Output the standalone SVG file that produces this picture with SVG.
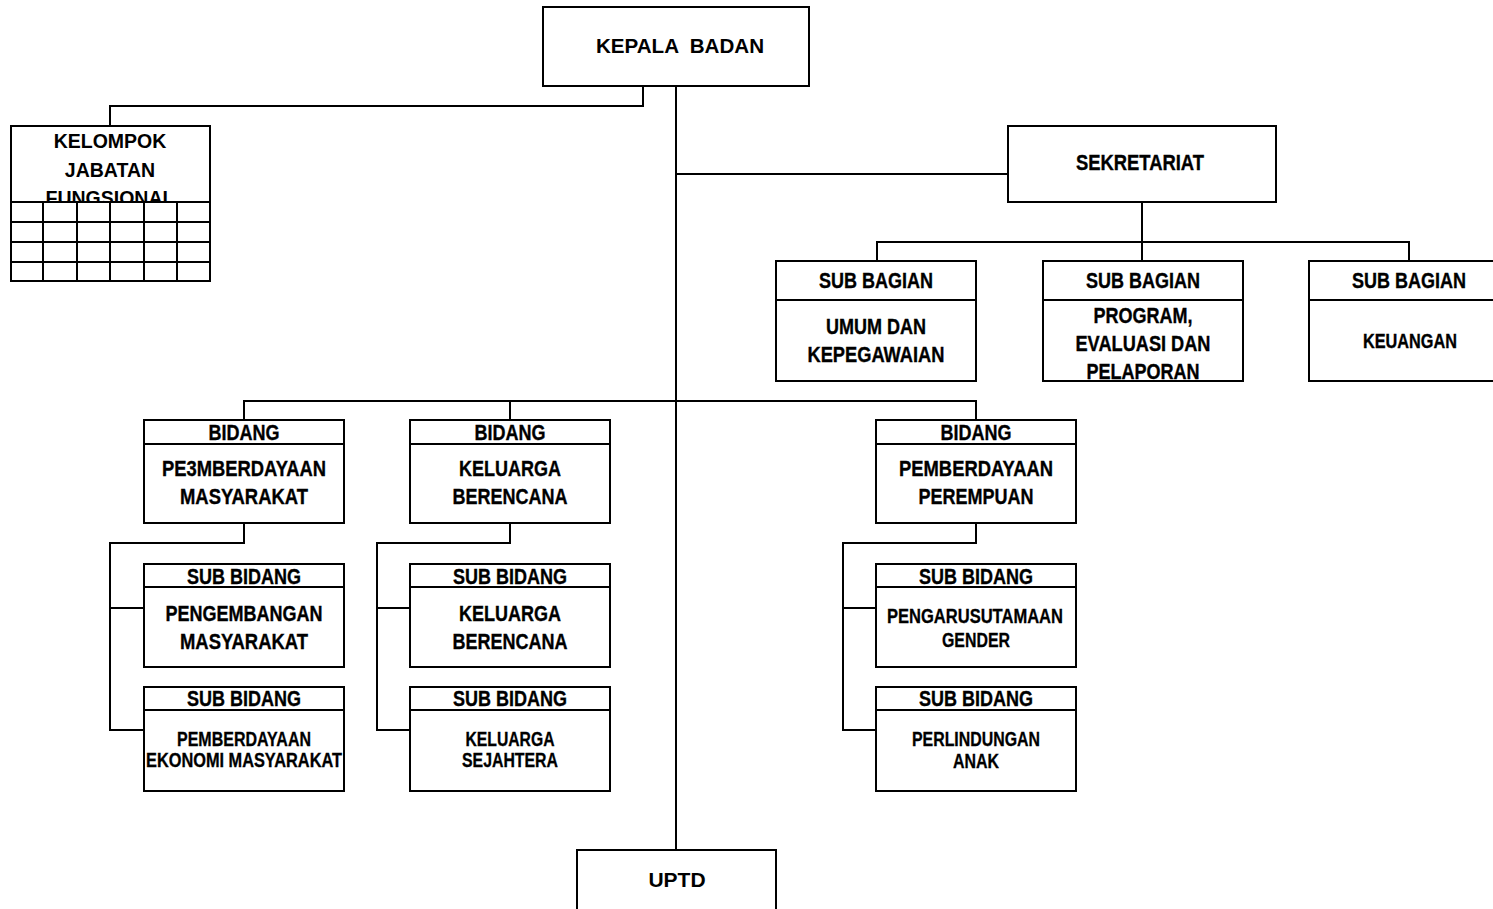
<svg xmlns="http://www.w3.org/2000/svg" width="1493" height="909" viewBox="0 0 1493 909">
<style>
rect{fill:#fff;stroke:#000;stroke-width:2}
line,path{fill:none;stroke:#000;stroke-width:2}
text{font-family:"Liberation Sans",Arial,sans-serif;font-weight:bold;text-anchor:middle;fill:#000}
.t{font-size:20px}
.n{font-size:22px;stroke:#000;stroke-width:0.35}
.s{font-size:19.5px;stroke:#000;stroke-width:0.3}
</style>
<rect x="0" y="0" width="1493" height="909" style="stroke:none"/>
<g id="connectors">
<path d="M643 86V106H110V126"/>
<path d="M676 86V850"/>
<path d="M676 174H1008"/>
<path d="M1142 202V261M877 261V242H1409V261"/>
<path d="M244 420V401H976V420M510 401V420"/>
<path d="M244 523V543H110V730H144M110 608H144"/>
<path d="M510 523V543H377V730H410M377 608H410"/>
<path d="M976 523V543H843V730H876M843 608H876"/>
</g>
<g id="kepala"><rect x="543" y="7" width="266" height="79"/><text class="t" x="680" y="53" xml:space="preserve" style="font-size:20.6px">KEPALA  BADAN</text></g>
<g id="kelompok">
<rect x="11" y="126" width="199" height="155"/>
<text class="t" x="110" y="148" style="font-size:19.5px">KELOMPOK</text>
<text class="t" x="110" y="177" style="font-size:19.5px">JABATAN</text>
<text class="t" x="110" y="205" style="font-size:19.5px">FUNGSIONAL</text>
<rect x="11" y="202" width="199" height="79"/>
<path d="M11 222H210M11 242H210M11 262H210M43 202V281M77 202V281M110 202V281M144 202V281M177 202V281"/>
</g>
<g id="sekretariat"><rect x="1008" y="126" width="268" height="76"/><text class="n" x="1140" y="170" textLength="128" lengthAdjust="spacingAndGlyphs">SEKRETARIAT</text></g>
<g id="subbag-umum"><rect x="776" y="261" width="200" height="120"/><line x1="776" y1="300" x2="976" y2="300"/>
<text class="n" x="876" y="288" textLength="114" lengthAdjust="spacingAndGlyphs">SUB BAGIAN</text>
<text class="n" x="876" y="334" textLength="100" lengthAdjust="spacingAndGlyphs">UMUM DAN</text>
<text class="n" x="876" y="362" textLength="137" lengthAdjust="spacingAndGlyphs">KEPEGAWAIAN</text></g>
<g id="subbag-program"><rect x="1043" y="261" width="200" height="120"/><line x1="1043" y1="300" x2="1243" y2="300"/>
<text class="n" x="1143" y="288" textLength="114" lengthAdjust="spacingAndGlyphs">SUB BAGIAN</text>
<text class="n" x="1143" y="323" textLength="99" lengthAdjust="spacingAndGlyphs">PROGRAM,</text>
<text class="n" x="1143" y="351" textLength="135" lengthAdjust="spacingAndGlyphs">EVALUASI DAN</text>
<text class="n" x="1143" y="379" textLength="113" lengthAdjust="spacingAndGlyphs">PELAPORAN</text></g>
<g id="subbag-keuangan"><rect x="1309" y="261" width="200" height="120"/><line x1="1309" y1="300" x2="1509" y2="300"/>
<text class="n" x="1409" y="288" textLength="114" lengthAdjust="spacingAndGlyphs">SUB BAGIAN</text>
<text class="n" x="1410" y="348" style="font-size:21px" textLength="94" lengthAdjust="spacingAndGlyphs">KEUANGAN</text></g>
<g id="bidang-pm"><rect x="144" y="420" width="200" height="103"/><line x1="144" y1="444" x2="344" y2="444"/>
<text class="n" x="244" y="440" textLength="71" lengthAdjust="spacingAndGlyphs">BIDANG</text>
<text class="n" x="244" y="476" textLength="164" lengthAdjust="spacingAndGlyphs">PE3MBERDAYAAN</text>
<text class="n" x="244" y="504" textLength="128" lengthAdjust="spacingAndGlyphs">MASYARAKAT</text></g>
<g id="bidang-kb"><rect x="410" y="420" width="200" height="103"/><line x1="410" y1="444" x2="610" y2="444"/>
<text class="n" x="510" y="440" textLength="71" lengthAdjust="spacingAndGlyphs">BIDANG</text>
<text class="n" x="510" y="476" textLength="102" lengthAdjust="spacingAndGlyphs">KELUARGA</text>
<text class="n" x="510" y="504" textLength="115" lengthAdjust="spacingAndGlyphs">BERENCANA</text></g>
<g id="bidang-pp"><rect x="876" y="420" width="200" height="103"/><line x1="876" y1="444" x2="1076" y2="444"/>
<text class="n" x="976" y="440" textLength="71" lengthAdjust="spacingAndGlyphs">BIDANG</text>
<text class="n" x="976" y="476" textLength="154" lengthAdjust="spacingAndGlyphs">PEMBERDAYAAN</text>
<text class="n" x="976" y="504" textLength="115" lengthAdjust="spacingAndGlyphs">PEREMPUAN</text></g>
<g id="subbid-pengembangan"><rect x="144" y="564" width="200" height="103"/><line x1="144" y1="587" x2="344" y2="587"/>
<text class="n" x="244" y="584" textLength="114" lengthAdjust="spacingAndGlyphs">SUB BIDANG</text>
<text class="n" x="244" y="621" textLength="157" lengthAdjust="spacingAndGlyphs">PENGEMBANGAN</text>
<text class="n" x="244" y="649" textLength="128" lengthAdjust="spacingAndGlyphs">MASYARAKAT</text></g>
<g id="subbid-ekonomi"><rect x="144" y="687" width="200" height="104"/><line x1="144" y1="710" x2="344" y2="710"/>
<text class="n" x="244" y="706" textLength="114" lengthAdjust="spacingAndGlyphs">SUB BIDANG</text>
<text class="s" x="244" y="746" textLength="134" lengthAdjust="spacingAndGlyphs">PEMBERDAYAAN</text>
<text class="s" x="244" y="767" textLength="196" lengthAdjust="spacingAndGlyphs">EKONOMI MASYARAKAT</text></g>
<g id="subbid-kb"><rect x="410" y="564" width="200" height="103"/><line x1="410" y1="587" x2="610" y2="587"/>
<text class="n" x="510" y="584" textLength="114" lengthAdjust="spacingAndGlyphs">SUB BIDANG</text>
<text class="n" x="510" y="621" textLength="102" lengthAdjust="spacingAndGlyphs">KELUARGA</text>
<text class="n" x="510" y="649" textLength="115" lengthAdjust="spacingAndGlyphs">BERENCANA</text></g>
<g id="subbid-ks"><rect x="410" y="687" width="200" height="104"/><line x1="410" y1="710" x2="610" y2="710"/>
<text class="n" x="510" y="706" textLength="114" lengthAdjust="spacingAndGlyphs">SUB BIDANG</text>
<text class="s" x="510" y="746" textLength="89" lengthAdjust="spacingAndGlyphs">KELUARGA</text>
<text class="s" x="510" y="767" textLength="96" lengthAdjust="spacingAndGlyphs">SEJAHTERA</text></g>
<g id="subbid-gender"><rect x="876" y="564" width="200" height="103"/><line x1="876" y1="587" x2="1076" y2="587"/>
<text class="n" x="976" y="584" textLength="114" lengthAdjust="spacingAndGlyphs">SUB BIDANG</text>
<text class="s" x="975" y="623" style="font-size:20px" textLength="176" lengthAdjust="spacingAndGlyphs">PENGARUSUTAMAAN</text>
<text class="s" x="976" y="647" style="font-size:20px" textLength="68" lengthAdjust="spacingAndGlyphs">GENDER</text></g>
<g id="subbid-anak"><rect x="876" y="687" width="200" height="104"/><line x1="876" y1="710" x2="1076" y2="710"/>
<text class="n" x="976" y="706" textLength="114" lengthAdjust="spacingAndGlyphs">SUB BIDANG</text>
<text class="s" x="976" y="746" textLength="128" lengthAdjust="spacingAndGlyphs">PERLINDUNGAN</text>
<text class="s" x="976" y="768" textLength="46" lengthAdjust="spacingAndGlyphs">ANAK</text></g>
<g id="uptd"><rect x="577" y="850" width="199" height="80"/><text class="t" x="677" y="887" style="font-size:21px">UPTD</text></g>
</svg>
